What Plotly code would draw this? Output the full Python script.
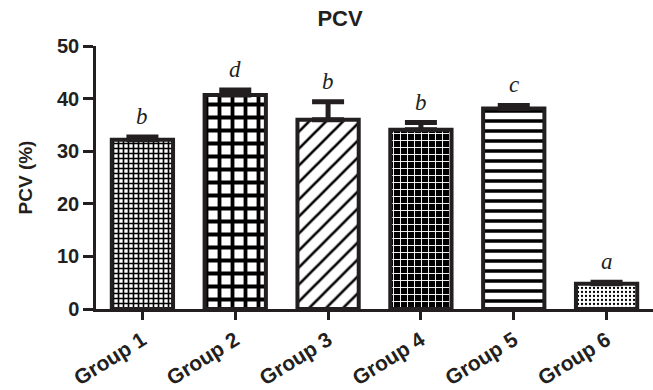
import plotly.graph_objects as go

# Packed cell volume by treatment group (mean and upper error)
groups = ["Group 1", "Group 2", "Group 3", "Group 4", "Group 5", "Group 6"]
pcv_mean = [32.2, 40.7, 36.0, 34.1, 38.1, 4.8]
pcv_err = [0.5, 0.95, 3.4, 1.35, 0.6, 0.3]
sig_letters = ["b", "d", "b", "b", "c", "a"]

# Fill pattern per bar (monochrome hatching)
pattern_shapes = ["+", "+", "/", "+", "-", "."]
pattern_fg = ["black", "black", "black", "white", "black", "black"]
pattern_bg = ["white", "white", "white", "black", "white", "white"]
pattern_size = [5, 13, 12, 7, 10, 4]
pattern_solidity = [0.55, 0.5, 0.22, 0.25, 0.35, 0.25]

ink = "#231f20"

fig = go.Figure()
fig.add_trace(go.Bar(
    x=groups,
    y=pcv_mean,
    width=0.66,
    marker=dict(
        color="white",
        line=dict(color=ink, width=4),
        pattern=dict(
            shape=pattern_shapes,
            fgcolor=pattern_fg,
            bgcolor=pattern_bg,
            size=pattern_size,
            solidity=pattern_solidity,
            fillmode="replace",
        ),
    ),
    error_y=dict(
        type="data",
        symmetric=False,
        array=pcv_err,
        arrayminus=[0] * len(pcv_err),
        color=ink,
        thickness=5,
        width=16,
    ),
    showlegend=False,
))

# Significance letters above each bar
for g, m, e, letter in zip(groups, pcv_mean, pcv_err, sig_letters):
    fig.add_annotation(
        x=g, y=m + e, text=letter, showarrow=False,
        xref="x", yref="y", yanchor="bottom", yshift=6,
        font=dict(family="Liberation Serif", size=23, color=ink, style="italic"),
    )

fig.update_layout(
    width=653, height=390,
    margin=dict(l=96, r=0, t=46, b=81),
    plot_bgcolor="white", paper_bgcolor="white",
    font=dict(family="Liberation Sans, Arial", color=ink),
    title=dict(
        text="<b>PCV</b>", x=340 / 653, xref="container", xanchor="center",
        y=0.953, yref="container", yanchor="middle",
        font=dict(size=22, color=ink),
    ),
)

fig.update_xaxes(
    range=[-0.5, 5.5], automargin=False,
    showline=True, linecolor=ink, linewidth=2.5,
    ticks="outside", ticklen=8, tickwidth=2.5, tickcolor=ink,
    tickangle=-32,
    tickfont=dict(size=21, color=ink, weight="bold"),
    showgrid=False, zeroline=False,
)

fig.update_yaxes(
    range=[0, 50], dtick=10, automargin=False,
    showline=True, linecolor=ink, linewidth=2.5,
    ticks="outside", ticklen=10, tickwidth=2.5, tickcolor=ink,
    tickfont=dict(size=20, color=ink, weight="bold"),
    title=dict(text="<b>PCV (%)</b>", font=dict(size=19, color=ink), standoff=20),
    showgrid=False, zeroline=False,
)

fig.write_html("out.html")
